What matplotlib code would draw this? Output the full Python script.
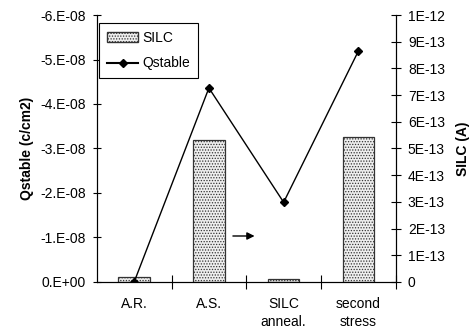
import matplotlib
matplotlib.use("Agg")
import matplotlib.pyplot as plt
from matplotlib.ticker import FixedLocator
from matplotlib.patches import Patch
from matplotlib.lines import Line2D

categories = ["A.R.", "A.S.", "SILC\nanneal.", "second\nstress"]
silc = [1.8e-14, 5.32e-13, 1.2e-14, 5.42e-13]
qstable = [0.0, -4.36e-08, -1.79e-08, -5.19e-08]
left_ticks = [0, -1e-08, -2e-08, -3e-08, -4e-08, -5e-08, -6e-08]
left_labels = ["0.E+00", "-1.E-08", "-2.E-08", "-3.E-08", "-4.E-08", "-5.E-08", "-6.E-08"]
right_ticks = [i * 1e-13 for i in range(11)]
right_labels = ["0"] + [f"{i}E-13" for i in range(1, 10)] + ["1E-12"]

plt.rcParams['font.family'] = ['Liberation Sans', 'DejaVu Sans']
plt.rcParams['font.size'] = 10
plt.rcParams['hatch.color'] = '#777777'
plt.rcParams['hatch.linewidth'] = 0.6

fig = plt.figure(figsize=(4.7, 3.34), dpi=100)
ax = fig.add_axes([0.206, 0.156, 0.636, 0.799])
ax2 = ax.twinx()

x = list(range(len(categories)))
ax2.bar(x, silc, width=0.42, facecolor='#eeeeee', edgecolor='#333333',
        hatch='......', linewidth=0.9)
ax2.set_ylim(0, 1e-12)
ax2.yaxis.set_major_locator(FixedLocator(right_ticks))
ax2.set_yticklabels(right_labels)
ax2.tick_params(axis='y', direction='inout', length=6.5, width=0.8, pad=5.5)
ax2.set_ylabel("SILC (A)", fontweight='bold', fontsize=10, labelpad=8)

ax.plot(x, qstable, color='black', linewidth=1.0, marker='D', markersize=4.5,
        markerfacecolor='black', zorder=5)
ax.set_ylim(0, -6e-08)
ax.set_yticks(left_ticks)
ax.set_yticklabels(left_labels)
ax.tick_params(axis='y', direction='inout', length=6, width=0.8, pad=5)
ax.set_ylabel("Qstable (c/cm2)", fontweight='bold', fontsize=10, labelpad=4.5)

ax.set_xlim(-0.5, 3.5)
ax.set_xticks(x)
ax.set_xticklabels(categories, linespacing=1.35)
ax.tick_params(axis='x', which='major', length=0, pad=11)
ax.set_xticks([0.5, 1.5, 2.5, 3.5], minor=True)
ax.tick_params(axis='x', which='minor', direction='inout', length=10, width=0.8)

ax.set_zorder(ax2.get_zorder() + 1)
ax.patch.set_visible(False)
for a in (ax, ax2):
    a.spines['top'].set_visible(False)
    for s in ('left', 'right', 'bottom'):
        a.spines[s].set_linewidth(0.8)

ax.annotate("", xy=(0.537, 0.172), xytext=(0.446, 0.172), xycoords='axes fraction',
            arrowprops=dict(arrowstyle='-|>', color='black', lw=1.0, mutation_scale=11))

handles = [Patch(facecolor='#eeeeee', edgecolor='#333333', hatch='......', label='SILC'),
           Line2D([], [], color='black', marker='D', markersize=4.5, label='Qstable')]
leg = ax.legend(handles=handles, loc='upper left', bbox_to_anchor=(0.007, 0.97),
                fancybox=False, edgecolor='black', framealpha=1, fontsize=10,
                handlelength=2.3, borderpad=0.55, labelspacing=0.85, handletextpad=0.3,
                borderaxespad=0)
leg.get_frame().set_linewidth(0.8)

fig.savefig("out.png", dpi=100)
